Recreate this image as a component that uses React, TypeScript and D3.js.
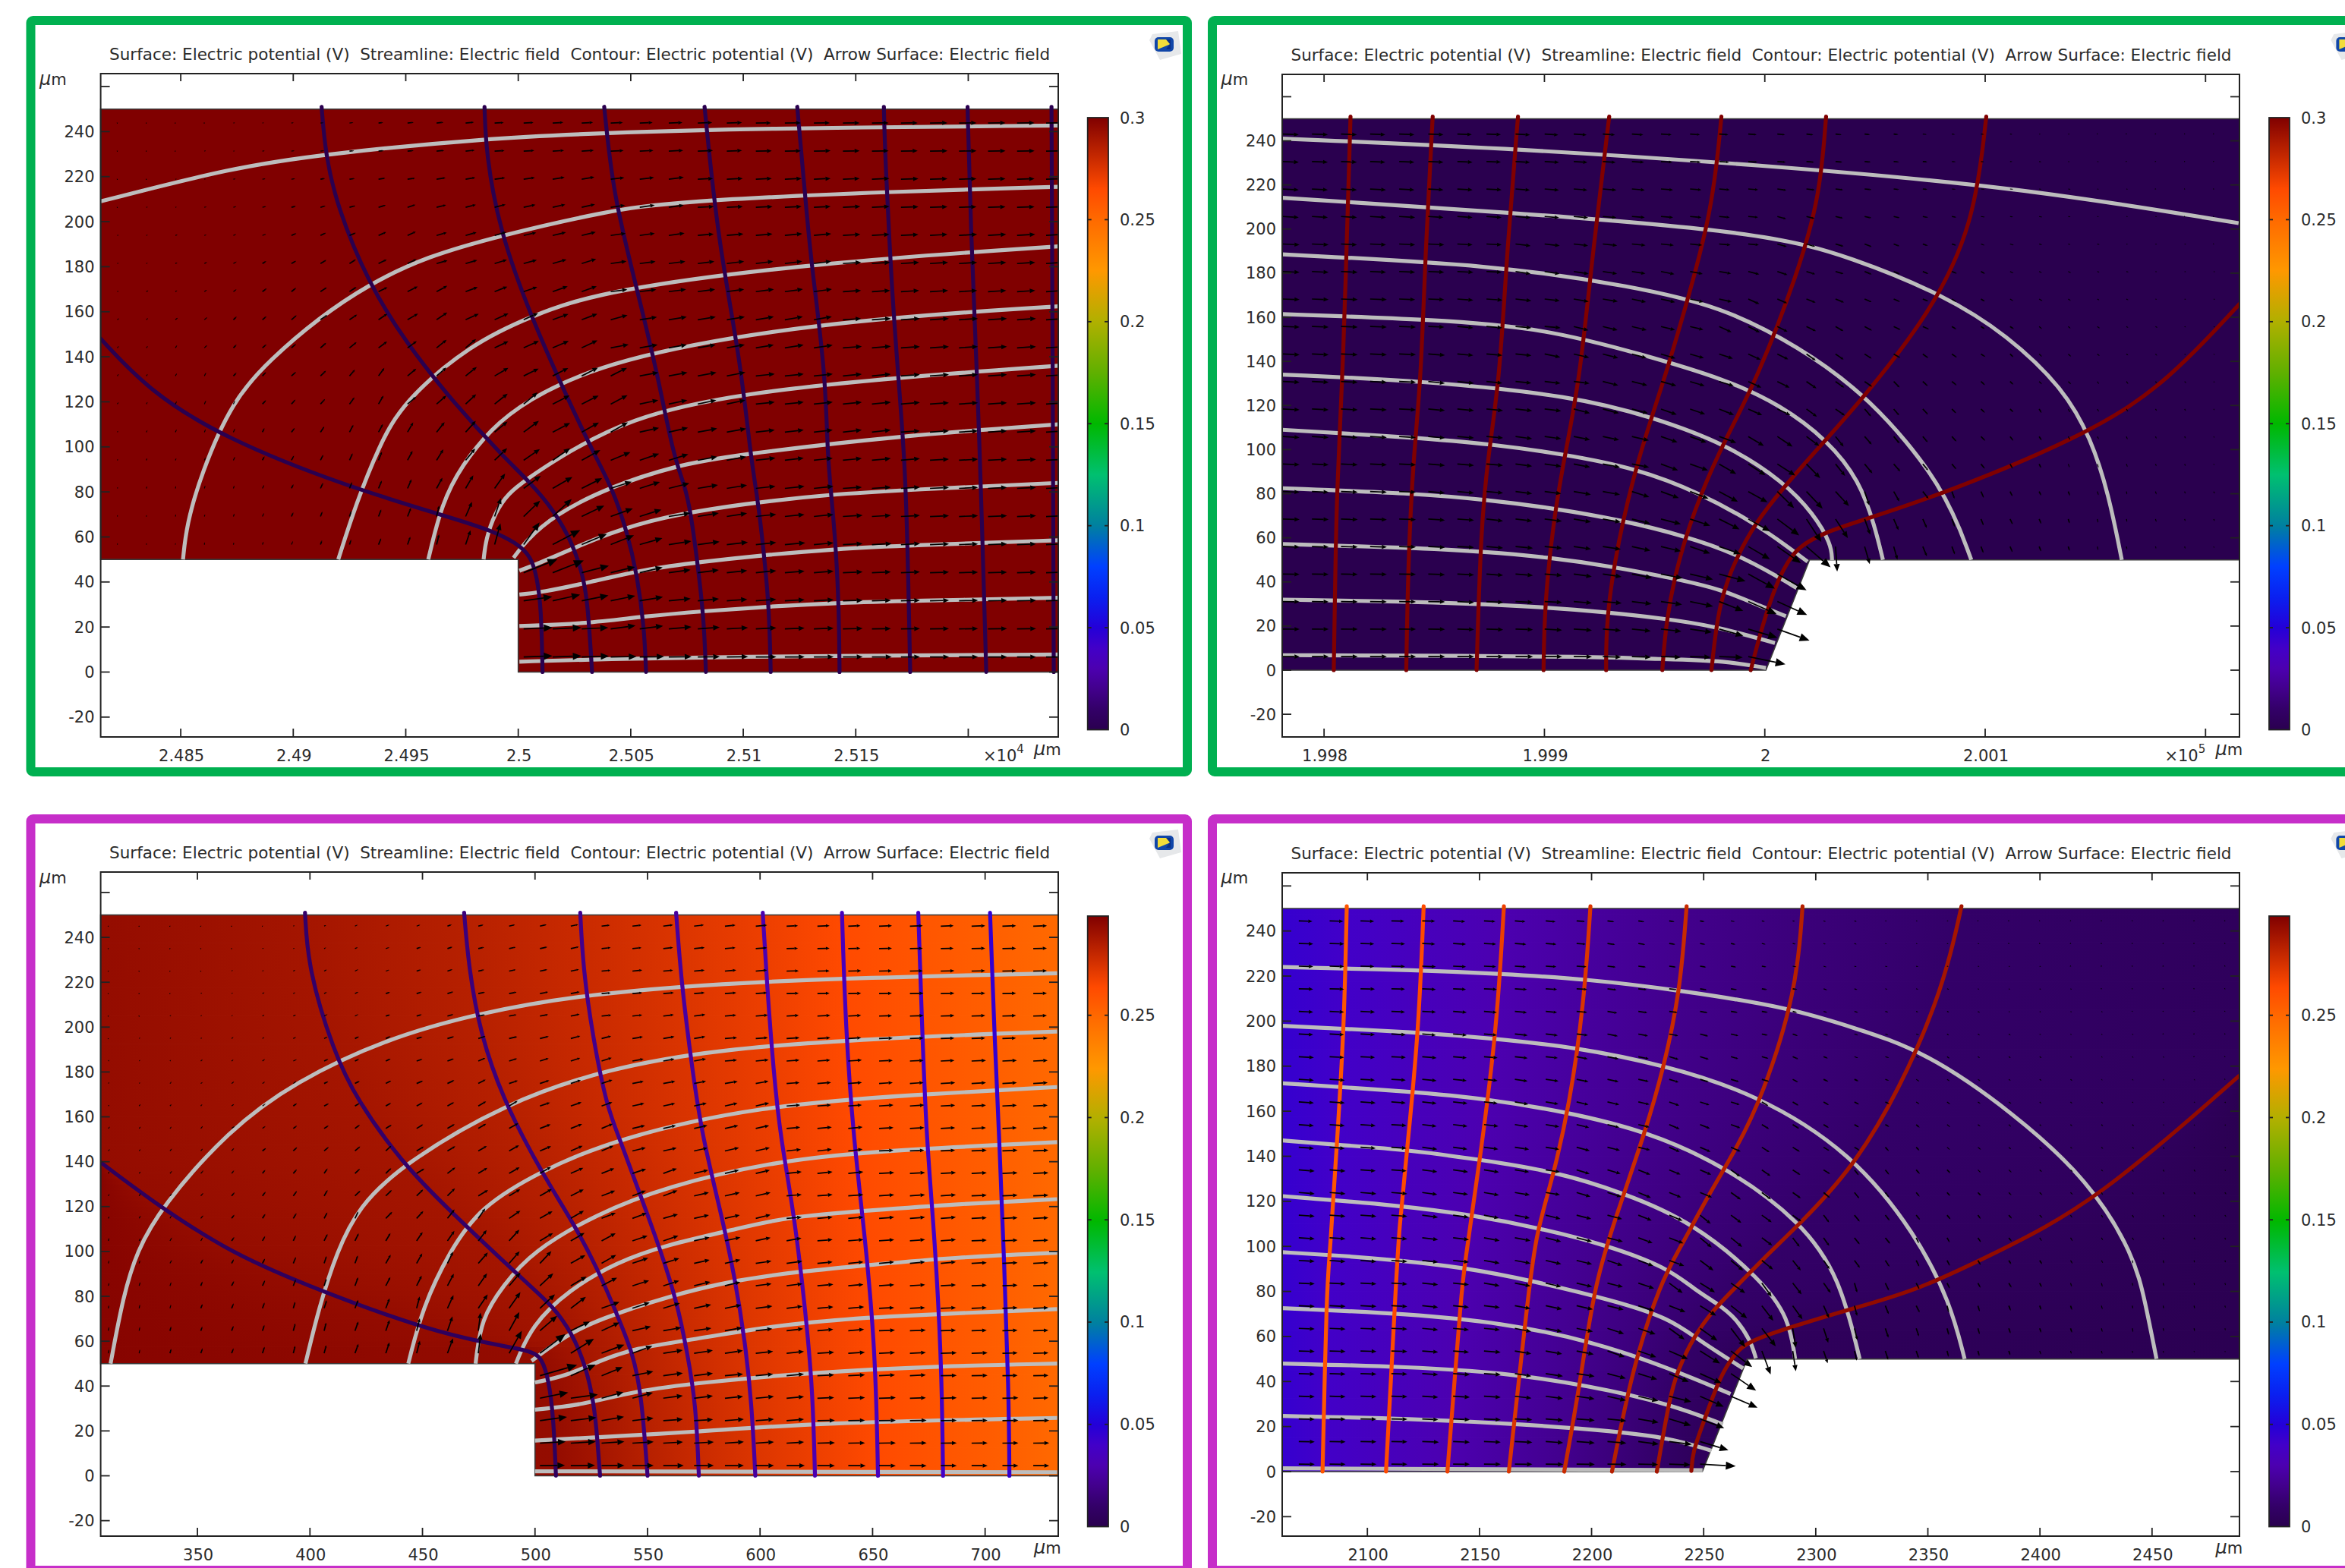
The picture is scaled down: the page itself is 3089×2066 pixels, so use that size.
import * as d3 from "d3";

const WIDTH = 3089;
const HEIGHT = 2066;
const FONT = '"DejaVu Sans", sans-serif';
const TITLE = "Surface: Electric potential (V)  Streamline: Electric field  Contour: Electric potential (V)  Arrow Surface: Electric field";

// rainbow colour table: volts -> colour
const CMAP_VALUES = [0, 0.01, 0.02, 0.03, 0.04, 0.05, 0.065, 0.08, 0.1, 0.125, 0.15, 0.175, 0.2, 0.225, 0.25, 0.265, 0.3];
const CMAP_COLORS = ["#2a004f", "#330068", "#42008c", "#4c00b0", "#4200c8", "#2400d8", "#0a20f0", "#0040ff", "#0080a0", "#00c070", "#00b800", "#60b000", "#b0b000", "#ff9800", "#ff6a00", "#ff4a00", "#800000"];
const cmap = d3.scaleLinear<string>().domain(CMAP_VALUES).range(CMAP_COLORS).clamp(true);

const Y_TICKS = [-20, 0, 20, 40, 60, 80, 100, 120, 140, 160, 180, 200, 220, 240, 260];
const BAR_TICKS = [0, 0.05, 0.1, 0.15, 0.2, 0.25, 0.3];

const P1_X_TICKS = [24850, 24900, 24950, 25000, 25050, 25100, 25150, 25200];
const P2_X_TICKS = [199800, 199900, 200000, 200100, 200200];
const P3_X_TICKS = [350, 400, 450, 500, 550, 600, 650, 700];
const P4_X_TICKS = [2100, 2150, 2200, 2250, 2300, 2350, 2400, 2450];

// all curves: [x distance from the metal corner in um, y in um]
const P1_STREAM = [
  [[-185.6, 209], [-127, 224], [-86.6, 230], [-14, 237], [38, 239.4], [102, 241.4], [240, 242.7]],
  [[-149, 50], [-147.5, 65], [-141, 88], [-127, 120.8], [-110, 139], [-89, 157], [-66.7, 172], [-41, 184.5], [-7.3, 194], [38, 204.4], [69, 209], [168, 213.5], [240, 215.5]],
  [[-80, 50], [-72, 75], [-62, 100], [-51.5, 119.8], [-21, 145.7], [5.5, 158], [38, 169.7], [135, 182], [240, 189]],
  [[-40, 50], [-34, 75], [-25, 92], [-12, 108], [2.2, 119.8], [39.6, 139], [135, 155.7], [240, 162.4]],
  [[-15.4, 50], [-14.4, 59], [-10.5, 70.4], [-4.6, 79.4], [4.4, 86], [16, 94], [49, 113], [100, 124], [170, 131], [240, 136]],
  [[-2.1, 50.7], [3.1, 58], [16, 69.8], [40.5, 82.2], [70.2, 91.7], [94.8, 96.2], [170, 105], [240, 110]],
  [[0.5, 45], [8.25, 47.9], [23.7, 54.6], [39.9, 61.4], [62.5, 68.7], [101.2, 74.9], [137.4, 78.8], [174.5, 81], [240, 84]],
  [[0.5, 34.4], [10.8, 35.5], [30.2, 39.5], [56, 45.6], [81.8, 49], [107.7, 51.8], [140, 54.6], [174.5, 56.3], [240, 58.5]],
  [[0.5, 20.4], [30.2, 21.5], [56, 24.8], [83.1, 27.1], [111.5, 29.1], [142.5, 30.8], [174.5, 31.6], [240, 33]],
  [[0.5, 4.6], [36.7, 5.8], [101.2, 6.9], [174.5, 7.4], [240, 7.8]],
];
const P1_CONTOUR = [
  [[-185.6, 148], [-163.8, 124.5], [-130.6, 103.9], [-77.4, 82.7], [-27.9, 68], [-12.4, 63], [-0.8, 57.4], [5.7, 51.3], [8.25, 42.3], [10.2, 28.8], [10.8, 0]],
  [[-87.4, 251], [-85.7, 230], [-80.6, 207], [-66.8, 173], [-49.6, 145.8], [-28.9, 119.8], [-7.2, 96.2], [5.7, 83.8], [16, 71.5], [23.7, 58], [28.3, 44.5], [30.8, 32.2], [32.8, 0]],
  [[-15, 251], [-14.3, 230], [-8.3, 196], [5.5, 158], [22.7, 119.8], [34, 96.2], [41.8, 81.6], [48.3, 62.5], [52.8, 43.4], [56, 19.8], [56.8, 0]],
  [[38.2, 251], [42.2, 212], [52.2, 172.3], [62, 132], [68.9, 96.2], [74.1, 82.7], [76.7, 70.4], [79.3, 51.3], [82.5, 24.3], [83.4, 0]],
  [[82.8, 251], [88.7, 192], [98.7, 139], [103.2, 96.2], [106.4, 77], [109, 54.6], [111.5, 28.8], [112.2, 0]],
  [[124, 251], [128.6, 199], [130.6, 179], [136.6, 132], [137.4, 96.2], [139.3, 77], [141.2, 54.6], [142.5, 28.8], [142.8, 0]],
  [[162.5, 251], [163, 230], [166, 170], [169, 130], [171.6, 96.2], [172.9, 62.5], [174.2, 0]],
  [[199.7, 251], [201, 200], [204, 130], [206, 70], [208, 0]],
  [[237, 251], [237.5, 150], [238, 0]],
];
const P2_STREAM = [
  [[-219, 241], [-122, 237], [0, 229], [115, 219], [215, 202.7]],
  [[-219, 214.2], [-122, 208], [0, 198.6], [40, 187], [81.5, 170], [110, 152], [135.8, 127.5], [148, 105], [156, 80], [162, 50]],
  [[-219, 188.5], [-122, 183.7], [-60, 174], [-20, 165], [15, 147], [47.5, 124], [81.5, 83.4], [93.7, 50]],
  [[-219, 161.4], [-150, 159], [-100, 155], [-55, 143], [-17.6, 131.8], [7, 120.3], [28.5, 104.3], [43, 85.9], [50, 65], [53.6, 50]],
  [[-219, 134], [-154.4, 131.2], [-86.8, 124.3], [-50.6, 114.6], [-17.6, 102.6], [8.8, 85.3], [22, 71], [30.2, 57.2], [30.5, 49.8]],
  [[-219, 109], [-157.7, 105.4], [-124.8, 102.6], [-91.8, 98], [-58.8, 91.7], [-29, 80.2], [-4.4, 66.4], [10.4, 56], [19.4, 49.2]],
  [[-219, 82.5], [-159.4, 80.2], [-126.4, 77.3], [-95, 73.3], [-65.4, 68.1], [-35.7, 60.7], [-12.7, 52.7], [7, 41.8], [14.5, 37.2]],
  [[-219, 57.2], [-161, 55.5], [-128, 53.8], [-96.7, 51], [-68.7, 46.9], [-42.3, 41.8], [-19.2, 36.6], [-1.1, 28.6], [9.6, 24.5]],
  [[-219, 32], [-146.2, 30.9], [-100, 28.6], [-72, 26.3], [-45.6, 23.4], [-22.6, 20], [4.6, 12.3]],
  [[-219, 6.8], [-133, 6.5], [-83.5, 6.2], [-45.6, 5], [-17.6, 4.2], [0.5, 1]],
];
const P2_CONTOUR = [
  [[-188, 251], [-191.5, 131.8], [-194, 86], [-194.8, 51.5], [-195.6, 0]],
  [[-150.7, 251], [-154, 190], [-156, 131.8], [-159.4, 97.4], [-161.8, 51.5], [-162.7, 0]],
  [[-112, 251], [-117, 190], [-120.3, 131.8], [-125.6, 97.4], [-128.9, 63], [-130.8, 0]],
  [[-70.6, 251], [-78, 190], [-84, 131.8], [-90.1, 100.8], [-95.9, 68.7], [-100, 28.6], [-100.4, 0]],
  [[-19.7, 251], [-23.8, 208], [-37, 161], [-45.6, 131.8], [-57.2, 97.4], [-67, 57.2], [-72, 22.8], [-72, 0]],
  [[27.8, 251], [25, 215], [15, 180], [-3.6, 131.8], [-17.6, 105.4], [-29.1, 80.2], [-39, 51.5], [-44.8, 22.8], [-46.5, 0]],
  [[100.5, 251], [95, 202], [74.7, 161], [43, 121.5], [28.5, 105.4], [7.1, 81.3], [-4.4, 66.4], [-12.7, 51.5], [-20.9, 31], [-24.2, 0]],
  [[-6.4, 0], [-1.1, 20.5], [5.5, 40], [10.4, 49.2], [15.4, 56], [27, 62.4], [43, 67.6], [81.5, 80], [149, 108], [183, 131], [215.4, 166]],
];
const P3_STREAM = [
  [[-188.6, 50], [-183, 80], [-177, 100], [-166, 119.9], [-136.2, 154], [-106.8, 175.6], [-65.6, 195], [-26, 206], [20.4, 214.6], [100, 221], [232, 224]],
  [[-102, 50], [-96, 75], [-88, 100], [-78.4, 119.9], [-58.7, 139], [-12.3, 166.6], [32.2, 181.4], [80, 190], [150, 195], [232, 198]],
  [[-56.3, 50], [-50, 75], [-38, 100], [-24.3, 119.9], [2.4, 135.8], [36.1, 150.4], [100, 165], [170, 170], [232, 173.3]],
  [[-26.4, 50], [-24, 70], [-14, 85], [-1.55, 99.7], [27, 116.6], [58.7, 129], [103.9, 139.7], [149, 144.8], [232, 148.7]],
  [[-8.5, 50], [-1.55, 67], [15, 82.8], [36.1, 95.2], [58.7, 103], [88.8, 109.8], [111.4, 115.4], [149, 118.3], [186.7, 121.1], [232, 123.3]],
  [[-1.55, 51.2], [13.5, 62.5], [28.6, 69.8], [58.7, 79.9], [88.8, 87.3], [119, 91.2], [149, 94], [186.7, 97.4], [232, 99.4]],
  [[0, 41.6], [13.5, 44.4], [28.6, 51.2], [43.6, 56.8], [73.8, 61.3], [96.3, 65.3], [119, 68.1], [149, 70.9], [232, 74.3]],
  [[0, 29.5], [21, 31.5], [43.6, 37.7], [73.8, 41.6], [123.4, 46.1], [179.2, 48.9], [232, 50]],
  [[0, 15.7], [73.8, 19.6], [123.4, 23.6], [232, 25.8]],
  [[0, 2], [232, 1.6]],
];
const P3_CONTOUR = [
  [[-193, 139.7], [-171, 123], [-138, 101], [-105, 86], [-38.4, 61.3], [-1.55, 56.3], [3, 52.3], [6, 43.3], [8.2, 26.4], [9.3, 0]],
  [[-102.2, 251], [-100.8, 226], [-89.6, 189.4], [-79.3, 167.7], [-58.7, 139.2], [-39.8, 119.9], [-1.55, 83.9], [7.5, 76], [16.5, 63.6], [22.5, 49], [26.3, 32], [27.8, 15], [28.9, 0]],
  [[-31.5, 251], [-29.4, 226], [-24.2, 196.4], [-14, 167.7], [-1.55, 143.6], [7.5, 127.9], [18, 111], [28.6, 90.6], [36.1, 72.6], [43.6, 54.6], [47.4, 35.4], [50, 0]],
  [[20.1, 251], [21.4, 226], [25.6, 196], [32, 164], [37.6, 150.4], [46.6, 125.6], [55.7, 100.8], [63.2, 77.1], [67.7, 54.6], [71.5, 32], [72.8, 0]],
  [[62.7, 251], [65, 220], [70, 180], [74.5, 150.4], [82.8, 116.6], [88.8, 88.4], [93.3, 60.2], [96.3, 32], [97.9, 0]],
  [[101.2, 251], [103, 220], [106, 180], [109.1, 150.4], [115.2, 116.6], [120.4, 71.5], [123.4, 37.7], [124.4, 0]],
  [[136.4, 251], [138, 200], [141.5, 150.4], [146.8, 105.3], [151.3, 54.6], [152.4, 0]],
  [[170.3, 251], [172, 200], [173.9, 150.4], [177.7, 105.3], [180.7, 49], [181.3, 0]],
  [[202.2, 251], [204, 200], [206.3, 150.4], [208.5, 94], [210.5, 37.7], [210.8, 0]],
];
const P4_STREAM = [
  [[-187.9, 224], [-126.3, 222.6], [-90.7, 221], [-52.6, 218.7], [-9.7, 213.6], [39, 205.8], [66.1, 197.3], [98.6, 186.8], [138.6, 159], [172, 129], [192, 96], [197, 75], [202, 50]],
  [[-187.9, 197.9], [-126.3, 195], [-93.9, 192.3], [-56.7, 188.4], [-17.8, 180.5], [22.7, 168.1], [66.1, 141.7], [95, 105], [110, 75], [116.4, 50]],
  [[-187.9, 172.4], [-129.6, 168.7], [-95.5, 165.3], [-61.5, 159.7], [-25.9, 151.3], [9.8, 135.6], [43.8, 110.8], [60.8, 86], [69.6, 50]],
  [[-187.9, 147], [-163.6, 145.1], [-131.2, 142.8], [-98.8, 138.3], [-66.4, 133.3], [-35.6, 123.7], [-4.8, 110.8], [26, 85], [38, 68.2], [40.8, 50]],
  [[-187.9, 122.3], [-134.4, 118.1], [-102, 113.7], [-72.9, 108], [-43.7, 100.7], [-16.1, 90.6], [-3.8, 80.6], [6.4, 74.4], [14.3, 68.2], [21, 58.1], [23.3, 50.3]],
  [[-187.9, 97.4], [-166.8, 96.2], [-137.7, 94], [-106.9, 90.6], [-77.7, 85], [-40, 76], [-15, 68], [-2.7, 58.7], [17.6, 45.8]],
  [[-188, 72.6], [-130, 70], [-90, 66], [-50, 58], [-15, 45.8], [12, 34.5]],
  [[-188, 48], [-130, 46.5], [-90, 44], [-50, 38], [-15, 30], [8.6, 21]],
  [[-188, 24.7], [-130, 23.5], [-80, 21], [-40, 18], [-15, 14.9], [3.5, 9.3]],
  [[-188, 1.5], [-0.5, 0.6]],
];
const P4_CONTOUR = [
  [[-159.2, 251], [-160.4, 196.2], [-163.6, 145.7], [-166.8, 95], [-168.1, 83.9], [-170, 0]],
  [[-124.9, 251], [-127.1, 196.2], [-132, 145.7], [-136, 106.3], [-137.2, 83.9], [-141.7, 0]],
  [[-89.1, 251], [-92.3, 196.2], [-99.6, 140], [-106.9, 89.5], [-107.7, 83.9], [-114.3, 0]],
  [[-50.5, 251], [-53.4, 207.4], [-59.9, 162.5], [-67.2, 131], [-74.5, 106.3], [-77.7, 83.9], [-86.9, 0]],
  [[-7.6, 251], [-10.5, 213], [-17.8, 179.4], [-25.9, 151.3], [-38.8, 114.2], [-48.6, 83.9], [-55, 40], [-62.2, 0]],
  [[44.1, 251], [41.4, 213], [26, 165.9], [14.6, 143.4], [1.7, 122], [-9.7, 100.7], [-19.4, 83.9], [-32, 45], [-40.9, 0]],
  [[115, 251], [107, 215], [87.2, 169], [66.1, 134.4], [43.8, 110.8], [26, 94], [13.1, 80.6], [4.1, 71.6], [-4.9, 59.2], [-11.7, 44.6], [-15.1, 33.4], [-20.9, 0]],
  [[-5.5, 0.3], [-4.9, 8.7], [-0.4, 21], [4.1, 33.4], [8.6, 44.6], [15.4, 54.2], [21, 58.1], [39.1, 64.3], [67.3, 72.7], [95.6, 80.6], [130, 97], [174, 119], [238.6, 175.5]],
];

// potential on each contour, left to right (volts)
const P1_LEVELS = [0.3, 0.3, 0.3, 0.3, 0.3, 0.3, 0.3, 0.3, 0.3];
const P2_LEVELS = [0, 0, 0, 0, 0, 0, 0, 0];
const P3_LEVELS = [0.2945, 0.29, 0.285, 0.28, 0.275, 0.27, 0.265, 0.26, 0.255];
const P4_LEVELS = [0.04, 0.035, 0.03, 0.025, 0.02, 0.015, 0.01, 0.005];

// arrow lengths in px, one row per grid line, top row first; short rows stop at the metal
const P1_ARROWS = [
  [1,1,1,1,2,2,3,4,5,6,8,9,11,12,13,14,15,16,17,18,19,20,20,21,21,22,22,22,23,23,23,23,23],
  [1,1,1,2,2,3,4,5,6,7,8,10,12,13,14,15,16,17,18,19,20,20,21,21,22,22,22,22,23,23,23,23,23],
  [1,1,2,2,3,4,5,6,7,9,10,12,13,14,15,16,17,18,19,20,20,21,21,22,22,22,23,23,23,23,23,23,23],
  [1,2,2,3,4,5,6,7,8,10,11,13,14,15,16,17,18,19,20,20,21,21,22,22,22,23,23,23,23,23,23,23,23],
  [2,2,3,3,4,5,7,8,9,11,12,14,15,16,17,18,19,20,20,21,21,22,22,23,23,23,23,23,23,24,24,24,24],
  [2,2,3,4,5,6,7,9,10,12,13,15,16,17,18,19,20,21,21,22,22,23,23,23,23,24,24,24,24,24,24,24,24],
  [2,3,3,4,5,7,8,10,11,13,15,16,17,18,19,21,21,22,22,23,23,23,24,24,24,24,24,24,24,24,24,24,24],
  [3,3,4,5,6,7,9,11,12,14,16,17,19,20,21,22,22,23,23,24,24,24,24,24,24,24,25,25,25,25,25,25,25],
  [3,3,4,5,6,7,8,10,12,14,15,17,18,20,22,23,23,24,24,24,24,24,24,25,25,25,25,25,25,25,25,25,25],
  [3,3,4,5,6,7,8,10,11,13,15,17,19,21,22,23,24,24,25,25,25,25,25,25,25,25,25,25,25,25,25,25,25],
  [3,3,4,5,5,7,8,9,11,13,15,17,19,22,24,25,25,25,25,25,25,25,25,25,25,25,25,25,25,25,25,25,25],
  [2,3,4,4,5,6,7,9,11,12,15,17,20,22,25,26,26,26,26,26,26,26,25,25,25,25,25,25,25,25,25,25,25],
  [2,3,3,4,5,6,7,8,10,12,14,17,20,23,26,28,28,28,27,27,26,26,26,25,25,25,25,25,25,25,25,25,25],
  [2,3,3,4,4,5,6,8,9,11,13,16,20,24,28,30,30,29,28,28,27,27,26,26,26,25,25,25,25,25,25,25,25],
  [2,2,3,3,4,5,6,7,8,10,12,15,21,26,30,34,33,31,30,29,28,27,27,26,26,26,25,25,25,25,25,25,25],
  [2,2,2,3,3,4,5,6,7,9,11,14,20,29,36,41,36,33,31,30,29,28,27,27,26,26,26,25,25,25,25,25,25],
  [48,44,37,33,31,29,28,27,27,26,26,26,25,25,25,25,25,25,25],
  [38,37,36,33,31,29,28,27,27,26,26,26,25,25,25,25,25,25,25],
  [38,38,35,33,31,30,29,28,27,26,26,26,25,25,25,25,25,25,25],
  [38,38,36,34,32,30,29,28,27,26,26,26,26,25,25,25,25,25,25],
];
const P2_ARROWS = [
  [21,21,21,20,20,20,19,19,19,18,17,16,15,14,13,12,11,10,9,8,7,6,5,4,4,3,2,2,1,1,1,1,1],
  [21,21,21,20,20,20,20,19,19,19,18,17,16,15,14,13,12,11,10,9,8,7,6,5,4,3,3,2,2,1,1,1,1],
  [21,21,21,21,20,20,20,20,19,19,18,18,17,16,15,14,13,12,11,10,9,7,6,5,5,4,3,3,2,2,1,1,1],
  [21,21,21,21,21,20,20,20,20,19,19,18,17,16,15,14,13,12,11,10,9,8,7,6,5,4,4,3,2,2,2,1,1],
  [22,22,21,21,21,21,20,20,20,20,19,19,18,17,16,15,14,13,12,11,10,8,7,6,5,5,4,3,3,2,2,2,1],
  [22,22,22,21,21,21,21,20,20,20,20,19,18,18,17,16,15,14,12,11,10,9,8,7,6,5,4,4,3,3,2,2,2],
  [22,22,22,22,21,21,21,21,21,20,20,20,19,19,18,17,16,14,13,12,10,9,8,7,6,5,5,4,3,3,2,2,2],
  [22,22,22,22,22,21,21,21,21,21,20,20,20,19,18,18,17,15,14,12,11,10,9,7,6,6,5,4,4,3,3,2,2],
  [22,22,22,22,22,22,21,21,21,21,21,21,20,20,19,19,18,16,15,13,11,10,9,8,7,6,5,5,4,3,3,2,2],
  [22,22,22,22,22,22,22,21,21,21,21,21,21,21,20,20,19,18,16,14,12,11,9,8,7,6,5,5,4,4,3,3,2],
  [22,22,22,22,22,22,22,22,22,22,22,22,22,22,21,21,20,19,17,15,13,11,10,8,7,6,6,5,4,4,3,3,2],
  [22,22,22,22,22,22,22,22,22,22,22,22,23,23,23,24,24,24,21,17,14,12,10,9,8,7,6,5,4,4,3,3,2],
  [22,22,22,22,22,22,22,22,22,22,22,23,23,24,25,26,27,28,26,20,16,13,11,9,8,7,6,5,5,4,3,3,2],
  [22,22,22,22,22,22,22,22,22,22,23,23,24,25,26,28,29,31,31,26,19,15,12,10,9,7,6,6,5,4,4,3,3],
  [22,22,22,22,22,22,22,22,22,23,23,24,25,27,28,30,33,36,36,30,22,16,13,11,9,8,7,6,5,4,4,3,3],
  [22,22,22,22,22,22,22,22,23,23,23,24,25,27,28,30,33,38,42,33,24,18,14,11,9,8,7,6,5,4,3,3,2],
  [22,22,22,22,22,22,22,22,23,23,24,25,27,29,31,36,40,44],
  [22,22,22,22,22,22,22,22,23,23,24,25,26,28,31,34,41,43],
  [22,22,22,22,22,22,22,22,23,23,24,24,25,27,29,33,40,45],
  [22,22,22,22,22,22,22,22,23,23,24,24,25,26,27,31,50],
];
const P3_ARROWS = [
  [1,1,1,1,1,1,2,3,4,5,5,6,7,8,9,10,11,12,13,13,14,15,15,16,16,17,17,17,18,18,18],
  [1,1,1,1,1,2,2,3,4,5,6,7,8,9,10,11,12,12,13,14,14,15,15,16,16,17,17,17,18,18,18],
  [1,1,1,1,2,2,3,4,5,5,6,7,8,9,10,11,12,13,13,14,15,15,16,16,17,17,17,18,18,18,18],
  [1,1,1,2,2,3,3,4,5,6,7,8,9,10,11,12,12,13,14,14,15,15,16,16,17,17,18,18,18,18,18],
  [1,1,2,2,2,3,4,5,5,6,7,8,9,10,11,12,13,13,14,15,15,16,16,17,17,17,18,18,18,18,18],
  [1,2,2,2,3,3,4,5,6,7,8,9,10,11,12,13,13,14,15,15,16,16,17,17,17,18,18,18,18,18,19],
  [2,2,2,3,3,4,5,6,6,7,8,9,10,11,12,13,14,15,15,16,16,17,17,17,18,18,18,18,19,19,19],
  [2,2,3,3,4,4,5,6,7,8,9,10,11,12,13,14,15,15,16,16,17,17,17,18,18,18,18,19,19,19,19],
  [2,3,3,3,4,5,6,7,7,8,9,10,12,13,14,15,15,16,16,17,17,18,18,18,18,19,19,19,19,19,19],
  [3,3,3,4,5,5,6,7,8,9,10,11,12,14,15,16,16,17,17,18,18,18,18,19,19,19,19,19,19,19,19],
  [3,3,4,4,5,6,7,8,9,10,11,12,13,15,16,17,17,18,18,18,19,19,19,19,19,19,19,19,20,20,20],
  [3,3,4,5,5,6,7,8,9,10,12,13,14,16,17,18,18,19,19,19,19,19,20,20,20,20,20,20,20,20,20],
  [3,4,4,5,6,7,8,9,10,11,12,14,15,17,18,19,19,19,20,20,20,20,20,20,20,20,20,20,20,20,20],
  [3,4,4,5,6,7,8,9,10,12,13,15,16,18,19,20,20,20,20,20,20,20,20,20,20,20,20,20,20,20,20],
  [4,4,5,5,6,7,8,10,11,12,14,16,18,20,20,21,21,21,21,21,21,20,20,20,20,20,20,20,20,20,20],
  [4,4,5,6,6,7,9,10,11,13,15,17,19,21,22,22,22,22,22,21,21,21,21,20,20,20,20,20,20,20,20],
  [4,5,5,6,7,8,9,10,12,13,15,18,20,23,24,24,23,23,22,22,21,21,21,21,20,20,20,20,20,20,20],
  [4,5,5,6,7,8,9,11,12,14,16,19,22,26,27,25,25,24,23,23,22,22,21,21,21,20,20,20,20,20,20],
  [5,5,6,6,7,8,10,11,13,15,17,20,24,28,30,28,26,25,24,23,23,22,22,21,21,21,21,20,20,20,20],
  [5,5,6,7,7,9,10,11,13,15,17,21,26,34,42,36,32,28,26,25,24,23,23,22,22,21,21,21,21,20,20],
  [51,36,30,28,26,25,24,23,23,22,22,21,21,21,21,20,20],
  [38,36,30,28,26,25,24,24,23,22,22,22,21,21,21,21,20],
  [36,34,30,28,26,25,25,24,23,23,22,22,22,21,21,21,21],
  [34,33,30,28,26,26,25,24,23,23,22,22,22,21,21,21,21],
  [33,32,30,28,27,26,25,24,24,23,23,22,22,21,21,21,21],
];
const P4_ARROWS = [
  [18,18,18,17,17,16,15,14,13,11,9,8,7,6,5,4,3,3,3,2,2,2,1,1,1,1,1,1,1,1,1],
  [19,19,18,18,17,17,16,15,14,12,10,9,8,7,6,5,4,3,3,2,2,2,2,1,1,1,1,1,1,1,1],
  [19,19,18,18,18,17,16,15,14,13,11,10,9,8,7,6,5,4,3,3,3,2,2,2,2,1,1,1,1,1,1],
  [19,19,19,18,18,17,17,16,15,14,12,11,10,9,8,7,6,5,4,3,3,3,2,2,2,2,1,1,1,1,1],
  [19,19,19,18,18,18,17,16,15,14,13,12,11,10,9,8,6,5,5,4,3,3,3,2,2,2,2,1,1,1,1],
  [19,19,19,19,18,18,17,17,16,15,14,13,12,11,10,8,7,6,5,4,4,3,3,3,2,2,2,2,1,1,1],
  [20,19,19,19,19,18,18,17,16,15,15,14,13,12,10,9,8,6,5,5,4,4,3,3,3,2,2,2,2,1,1],
  [20,20,19,19,19,18,18,17,17,16,15,14,13,12,11,10,8,7,6,5,5,4,4,3,3,3,2,2,2,2,1],
  [20,20,20,19,19,19,18,18,17,16,16,15,14,13,12,10,9,8,7,6,5,5,4,4,3,3,3,2,2,2,2],
  [20,20,20,20,19,19,19,18,18,17,16,15,15,14,13,11,10,8,7,6,6,5,4,4,3,3,3,3,2,2,2],
  [20,20,20,20,20,19,19,19,18,18,17,16,15,15,14,12,11,9,8,7,6,5,5,4,4,3,3,3,3,2,2],
  [21,21,20,20,20,20,20,19,19,18,18,17,16,16,15,14,12,10,9,8,7,6,5,5,4,4,3,3,3,3,2],
  [21,21,21,21,20,20,20,20,19,19,19,18,17,17,16,15,13,11,10,8,7,6,6,5,5,4,4,3,3,3,3],
  [21,21,21,21,21,21,20,20,20,20,20,19,19,18,17,16,14,12,11,9,8,7,6,6,5,4,4,4,3,3,3],
  [21,21,21,21,21,21,21,21,21,21,21,20,20,20,19,17,15,13,11,10,8,7,7,6,5,5,4,4,3,3,3],
  [21,21,21,21,21,21,21,21,21,21,21,21,21,22,21,19,17,14,12,10,9,8,7,6,6,5,4,4,4,3,3],
  [21,21,21,21,21,21,21,21,21,21,21,22,22,23,23,22,19,16,13,11,9,8,7,7,6,5,5,4,4,3,3],
  [21,21,21,21,21,21,21,21,22,22,22,22,23,25,27,25,22,18,14,12,10,9,8,7,6,6,5,4,4,4,3],
  [21,21,21,21,21,21,21,22,22,22,23,24,25,28,31,30,26,20,16,13,11,9,8,7,6,6,5,5,4,4,3],
  [21,21,21,21,21,21,22,22,22,23,24,25,27,31,35,33,27,17,13,12,10,8,7,6,5,4,4,3,3,2,2],
  [21,21,21,21,21,22,22,22,23,24,25,26,28,31,40],
  [21,21,21,21,21,22,22,22,23,24,25,27,30,34,38],
  [21,21,21,21,21,22,22,23,23,24,25,27,30,34],
  [21,21,21,21,22,22,22,23,23,24,25,27,30,39],
  [21,21,21,21,22,22,22,23,23,24,25,26,28,47],
];

const PANELS = [
  {
    id: "p1", frame: [40.5, 27, 1523.5, 990], frameColor: "#00b050", ox: 0, oy: 0,
    box: [132.6, 97, 1394, 971], xDomain: [24814.4, 25240], x0: 25000, y0: 885.5, y250: 143.7,
    xTicks: P1_X_TICKS, unlabeled: [25200], tickText: (t: number) => `${+(t / 1e4).toFixed(3)}`, exp: "4",
    barX: [1432.7, 1460], barY: [155, 961.5], barMax: 0.3, edge: [0, 0], vLeft: 0.3, vRight: 0.3,
    stream: P1_STREAM, contour: P1_CONTOUR, levels: P1_LEVELS, arrows: P1_ARROWS, alignRight: true,
    grid: [-178.2, 12.9, 243.8, -12.48],
  },
  {
    id: "p2", frame: [1597, 27, 1700, 990], frameColor: "#00b050", ox: 1556.4, oy: 0,
    box: [1689, 98, 2950, 971], xDomain: [199781, 200215.4], x0: 200000, y0: 883, y250: 156.5,
    xTicks: P2_X_TICKS, unlabeled: [200200], tickText: (t: number) => `${+(t / 1e5).toFixed(3)}`, exp: "5",
    barX: [2989, 3016], barY: [155, 961.5], barMax: 0.3, edge: [0.5, 20.3], vLeft: 0, vRight: 0,
    stream: P2_STREAM, contour: P2_CONTOUR, levels: P2_LEVELS, arrows: P2_ARROWS, alignRight: false,
    grid: [-218.7, 13.2, 243.1, -12.47],
  },
  {
    id: "p3", frame: [40.5, 1079, 1523.5, 990], frameColor: "#c62ec9", ox: 0, oy: 1052,
    box: [132.6, 1149, 1394, 2024], xDomain: [307, 732.5], x0: 500, y0: 1944.5, y250: 1205.5,
    xTicks: P3_X_TICKS, unlabeled: [], tickText: (t: number) => `${t}`, exp: "",
    barX: [1432.7, 1460], barY: [1207, 2011.5], barMax: 0.2985, edge: [0, 0], vLeft: 0.298, vRight: 0.2505,
    stream: P3_STREAM, contour: P3_CONTOUR, levels: P3_LEVELS, arrows: P3_ARROWS, alignRight: true,
    grid: [-189.6, 13.7, 245, -10.02],
  },
  {
    id: "p4", frame: [1597, 1079, 1700, 990], frameColor: "#c62ec9", ox: 1556.4, oy: 1052,
    box: [1689, 1150, 2950, 2024], xDomain: [2062, 2489], x0: 2250, y0: 1939, y250: 1197,
    xTicks: P4_X_TICKS, unlabeled: [], tickText: (t: number) => `${t}`, exp: "",
    barX: [2989, 3016], barY: [1207, 2011.5], barMax: 0.2985, edge: [-0.6, 19.4], vLeft: 0.0445, vRight: 0.001,
    stream: P4_STREAM, contour: P4_CONTOUR, levels: P4_LEVELS, arrows: P4_ARROWS, alignRight: false,
    grid: [-180.6, 13.77, 244.5, -10.05],
  },
];

// x of a contour at height y, null if the contour does not reach it
function crossing(curve: number[][], y: number) {
  for (let i = 0; i < curve.length - 1; i++) {
    const [ax, ay] = curve[i];
    const [bx, by] = curve[i + 1];
    if ((ay - y) * (by - y) <= 0 && ay !== by) return ax + ((y - ay) / (by - ay)) * (bx - ax);
  }
  return null;
}

// arrows follow the drawn streamlines: weighted tangent of the nearest segment of each line
function flowAngle(px: number, py: number, lines: number[][][]) {
  let sx = 0;
  let sy = 0;
  lines.forEach((line) => {
    let best = Infinity;
    let tx = 1;
    let ty = 0;
    for (let i = 0; i < line.length - 1; i++) {
      const [ax, ay] = line[i];
      const [bx, by] = line[i + 1];
      const dx = bx - ax;
      const dy = by - ay;
      const l2 = dx * dx + dy * dy || 1;
      const u = Math.max(0, Math.min(1, ((px - ax) * dx + (py - ay) * dy) / l2));
      const d = Math.hypot(px - ax - u * dx, py - ay - u * dy);
      if (d < best) {
        best = d;
        tx = dx / Math.sqrt(l2);
        ty = dy / Math.sqrt(l2);
      }
    }
    const w = 1 / (best * best + 4);
    sx += tx * w;
    sy += ty * w;
  });
  return Math.atan2(sy, sx);
}

function Logo({ x, y }: { x: number; y: number }) {
  return (
    <g transform={`translate(${x} ${y})`}>
      <path d="M-14,-14 L20,-18 L24,12 L-4,20 L-18,-6 Z" fill="#e6e8ea" />
      <rect x={-11} y={-10} width={25} height={19} rx={5} fill="#1046a8" />
      <path d="M-7,-7 L10,-7 L10,-1 L-7,6 Z" fill="#f2dc3a" />
      <path d="M4,-7 L10,-7 L10,6 L4,6 L9,-1 Z" fill="#0a2f86" />
    </g>
  );
}

function Panel({ p }: { p: any }) {
  const [left, top, right, bottom] = p.box;
  const x = d3.scaleLinear().domain(p.xDomain).range([left, right]);
  const y = d3.scaleLinear().domain([0, 250]).range([p.y0, p.y250]);
  const px = (dx: number) => x(p.x0 + dx);
  const line = d3
    .line<number[]>()
    .x((d) => px(d[0]))
    .y((d) => y(d[1]))
    .curve(d3.curveBasis);

  const [e0, e1] = p.edge;
  const xEnd = p.xDomain[1] - p.x0;
  const xStart = p.xDomain[0] - p.x0;
  // polygon of the electrolyte domain, the metal is left blank
  const domainPts =
    p.id === "p1" || p.id === "p3"
      ? [[xStart, 250], [xEnd, 250], [xEnd, 0], [0, 0], [0, 50], [xStart, 50]]
      : [[xStart, 250], [xEnd, 250], [xEnd, 50], [e1, 50], [e0, 0], [xStart, 0]];
  const domainPath = "M" + domainPts.map((d) => `${px(d[0])},${y(d[1])}`).join("L") + "Z";

  const rows = d3.range(0, 250, 2.5);
  const gradient = p.vLeft !== p.vRight;
  const lastContour = p.contour.length - 1;

  const streamPx = p.stream.map((l: number[][]) => l.map((d) => [px(d[0]), y(d[1])]));
  const nCols = d3.max(p.arrows as number[][], (r) => r.length) as number;
  const [colStart, colStep, rowStart, rowStep] = p.grid;

  const barY = d3.scaleLinear().domain([0, p.barMax]).range([p.barY[1], p.barY[0]]);
  const barStops = CMAP_VALUES.map((v, i) => ({ offset: v / 0.3, color: CMAP_COLORS[i] }));

  return (
    <g fontFamily={FONT} fill="#2b2b2b">
      <defs>
        <clipPath id={`${p.id}-domain`}>
          <path d={domainPath} />
        </clipPath>
        <clipPath id={`${p.id}-plot`}>
          <rect x={left} y={top} width={right - left} height={bottom - top} />
        </clipPath>
        <linearGradient id={`${p.id}-bar`} x1="0" x2="0" y1="1" y2="0">
          {barStops.map((s) => (
            <stop key={s.offset} offset={s.offset} stopColor={s.color} />
          ))}
        </linearGradient>
        {gradient &&
          rows.map((r) => {
            const yr = r + 1.25;
            const stops = p.contour
              .map((c: number[][], i: number) => ({ xv: crossing(c, yr), v: p.levels[i] }))
              .filter((s: any) => s.xv !== null);
            // edge value stays on the contour's level where that contour leaves through the edge
            const leftV = crossing(p.contour[0], yr) === null ? p.levels[0] : p.vLeft;
            const rightV = crossing(p.contour[lastContour], yr) === null ? p.levels[lastContour] : p.vRight;
            const all = [{ xv: xStart, v: leftV }, ...stops, { xv: xEnd, v: rightV }];
            return (
              <linearGradient key={r} id={`${p.id}-row-${r}`} gradientUnits="userSpaceOnUse" x1={left} x2={right} y1={0} y2={0}>
                {all.map((s: any, i: number) => (
                  <stop key={i} offset={(px(s.xv) - left) / (right - left)} stopColor={cmap(s.v)} />
                ))}
              </linearGradient>
            );
          })}
      </defs>

      <rect x={p.frame[0]} y={p.frame[1]} width={p.frame[2]} height={p.frame[3]} rx={3} fill="none" stroke={p.frameColor} strokeWidth={12} />

      <text x={left + 11.5} y={top - 18} fontSize={21.5} style={{ whiteSpace: "pre" }}>{TITLE}</text>
      <Logo x={1532 + p.ox} y={59 + p.oy} />

      <g clipPath={`url(#${p.id}-domain)`}>
        {gradient ? (
          rows.map((r) => (
            <rect key={r} x={left} width={right - left} y={y(r + 2.5) - 0.4} height={y(r) - y(r + 2.5) + 0.8} fill={`url(#${p.id}-row-${r})`} />
          ))
        ) : (
          <path d={domainPath} fill={cmap(p.vLeft)} />
        )}
      </g>
      <path d={domainPath} fill="none" stroke="#3a3a3a" strokeWidth={1.6} />

      <g clipPath={`url(#${p.id}-plot)`}>
        {p.stream.map((l: number[][], i: number) => (
          <path key={i} d={line(l) as string} fill="none" stroke="#bdbdbd" strokeWidth={5.2} />
        ))}
        {p.contour.map((l: number[][], i: number) => (
          <path key={i} d={line(l) as string} fill="none" stroke={cmap(0.3 - p.levels[i])} strokeWidth={5.2} strokeLinecap="round" />
        ))}
        {p.arrows.map((row: number[], j: number) => {
          const offset = p.alignRight ? nCols - row.length : 0;
          const ay = y(rowStart + j * rowStep);
          return row.map((len, i) => {
            const ax = px(colStart + (i + offset) * colStep);
            const a = (flowAngle(ax, ay, streamPx) * 180) / Math.PI;
            const head = Math.max(1.6, Math.min(13, len * 0.3));
            return (
              <g key={`${j}-${i}`} transform={`translate(${ax} ${ay}) rotate(${a})`}>
                <line x1={0} x2={len - head} y1={0} y2={0} stroke="#000" strokeWidth={len < 6 ? 1.2 : 1.7} />
                <path d={`M${len},0L${len - head},${-head * 0.42}L${len - head},${head * 0.42}Z`} fill="#000" />
              </g>
            );
          });
        })}
      </g>

      <rect x={left} y={top} width={right - left} height={bottom - top} fill="none" stroke="#222" strokeWidth={2} />
      {p.xTicks.map((t: number) => (
        <g key={t}>
          <line x1={x(t)} x2={x(t)} y1={top} y2={top + 10} stroke="#222" strokeWidth={1.8} />
          <line x1={x(t)} x2={x(t)} y1={bottom} y2={bottom - 11} stroke="#222" strokeWidth={1.8} />
          {!p.unlabeled.includes(t) && (
            <text x={x(t) + 1} y={bottom + 32} textAnchor="middle" fontSize={21}>{p.tickText(t)}</text>
          )}
        </g>
      ))}
      {Y_TICKS.map((t) => (
        <g key={t}>
          <line x1={left} x2={left + 12} y1={y(t)} y2={y(t)} stroke="#222" strokeWidth={1.8} />
          <line x1={right} x2={right - 12} y1={y(t)} y2={y(t)} stroke="#222" strokeWidth={1.8} />
          {t !== 260 && (
            <text x={left - 8} y={y(t) + 7.5} textAnchor="end" fontSize={21}>{t}</text>
          )}
        </g>
      ))}

      <text x={52 + p.ox} y={112 + p.oy} fontSize={21}>
        <tspan fontStyle="italic" fontSize={24}>µ</tspan>m
      </text>
      {p.exp && (
        <text x={1295 + p.ox} y={1003} fontSize={21}>
          ×10<tspan fontSize={15} dy={-11}>{p.exp}</tspan>
        </text>
      )}
      <text x={1362 + p.ox} y={995 + p.oy} fontSize={21}>
        <tspan fontStyle="italic" fontSize={24}>µ</tspan>m
      </text>

      <rect x={p.barX[0]} y={p.barY[0]} width={p.barX[1] - p.barX[0]} height={p.barY[1] - p.barY[0]} fill={`url(#${p.id}-bar)`} stroke="#222" strokeWidth={1.8} />
      {BAR_TICKS.filter((t) => t <= p.barMax).map((t) => (
        <g key={t}>
          {t > 0 && t < p.barMax && (
            <>
              <line x1={p.barX[0]} x2={p.barX[0] + 5} y1={barY(t)} y2={barY(t)} stroke="#222" strokeWidth={1.8} />
              <line x1={p.barX[1]} x2={p.barX[1] - 5} y1={barY(t)} y2={barY(t)} stroke="#222" strokeWidth={1.8} />
            </>
          )}
          <text x={p.barX[1] + 15} y={barY(t) + 7.5} fontSize={21}>{t}</text>
        </g>
      ))}
    </g>
  );
}

export default function App() {
  return (
    <svg width={WIDTH} height={HEIGHT} viewBox={`0 0 ${WIDTH} ${HEIGHT}`} style={{ position: "absolute", left: 0, top: 0, display: "block", background: "#fff" }}>
      {PANELS.map((p) => (
        <Panel key={p.id} p={p} />
      ))}
    </svg>
  );
}
